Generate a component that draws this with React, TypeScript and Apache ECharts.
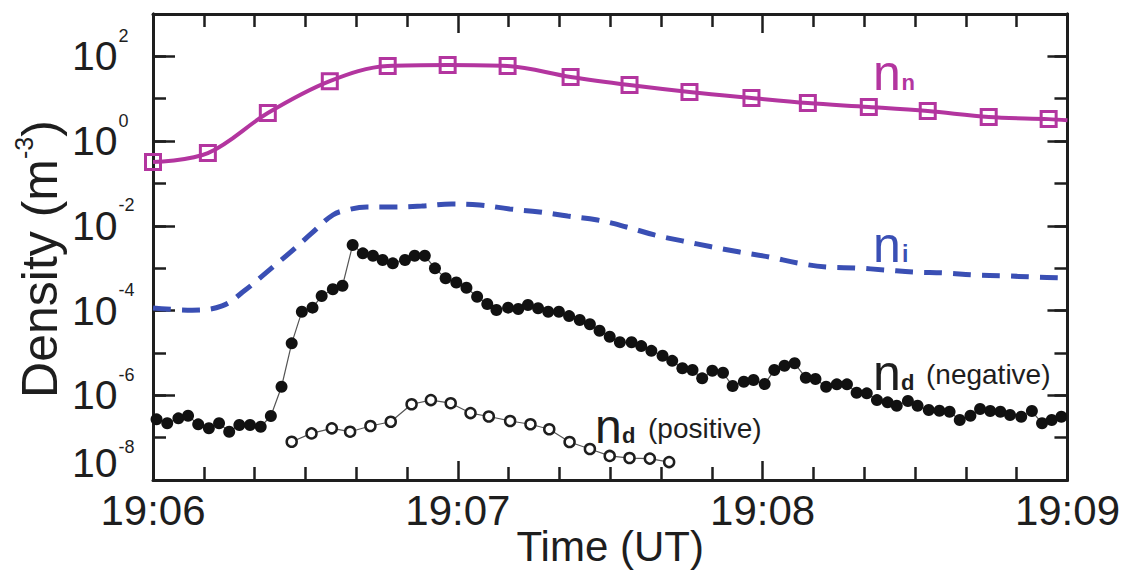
import React, { useEffect, useRef } from 'react';
import * as echarts from 'echarts';

// ---------- data (time in seconds after 19:06 UT, density in m^-3) ----------
const xTickLabels = ['19:06', '19:07', '19:08', '19:09'];

const nnTime = [0, 10.8, 22.6, 34.8, 46.2, 58.0, 69.8, 82.2, 93.8, 105.6, 117.8, 128.9, 140.9, 152.5, 164.5, 176.3, 180];
const nnValue = [0.32, 0.52, 4.6, 26, 59, 62.5, 59, 32.6, 21, 14.4, 10.4, 7.9, 6.4, 5.1, 3.7, 3.3, 3.1];

const niTime = [0, 7.7, 13.6, 18.1, 22.4, 26.9, 31.3, 35.4, 38.2, 42.1, 46.6, 52.9, 58.8, 64.3, 70.2, 76.1, 81.6, 87.5, 93.2, 98.7, 104.2, 109.9, 115.5, 121.4, 126.9, 132.8, 138.5, 144.0, 149.9, 155.8, 161.7, 167.6, 173.1, 178.8, 180];
const niValue = [1.15e-4, 1.02e-4, 1.29e-4, 3.0e-4, 8.1e-4, 2.3e-3, 6.8e-3, 1.8e-2, 2.36e-2, 2.78e-2, 2.78e-2, 2.93e-2, 3.27e-2, 3.1e-2, 2.5e-2, 2.12e-2, 1.7e-2, 1.37e-2, 9.4e-3, 6.1e-3, 4.4e-3, 3.2e-3, 2.4e-3, 1.83e-3, 1.32e-3, 1.06e-3, 1.01e-3, 9.1e-4, 8.1e-4, 7.7e-4, 6.9e-4, 6.6e-4, 6.2e-4, 5.9e-4, 5.75e-4];

const ndNegTime = [0.7, 2.8, 5.0, 6.9, 8.9, 11.0, 13.0, 15.0, 17.0, 19.1, 21.2, 23.2, 25.3, 27.3, 29.3, 31.4, 33.2, 35.4, 37.3,
  39.3, 41.3, 43.3, 45.2, 47.2, 49.6, 51.5, 53.5, 55.5, 57.6, 59.7, 61.7, 63.8, 65.8, 67.6, 69.9, 71.9, 73.8, 75.8,
  77.8, 79.9, 81.9, 84.0, 86.0, 87.9, 89.9, 91.9, 94.2, 96.1, 98.1, 100.3, 102.2, 104.2, 106.2, 108.1, 110.1, 112.2, 114.1, 116.3, 118.2, 120.4, 122.3,
  124.3, 126.3, 128.5, 130.4, 132.5, 134.6, 136.6, 138.5, 140.5, 142.5, 144.6, 146.4, 148.6, 150.5, 152.7, 154.8, 156.8, 158.8, 160.9, 162.8, 164.8, 166.8, 168.7, 170.9, 173.0, 175.0, 176.9, 178.8];
const ndNegValue = [2.7e-7, 2.18e-7, 2.85e-7, 3.29e-7, 2.06e-7, 1.66e-7, 2.18e-7, 1.38e-7, 1.98e-7, 1.98e-7, 1.81e-7, 3.24e-7, 1.59e-6, 1.68e-5, 9.4e-5, 1.17e-4, 2.2e-4, 3.17e-4, 3.85e-4,
  3.52e-3, 2.24e-3, 1.97e-3, 1.56e-3, 1.30e-3, 1.56e-3, 1.97e-3, 1.97e-3, 9.9e-4, 5.8e-4, 4.6e-4, 3.46e-4, 2.12e-4, 1.43e-4, 1.03e-4, 1.17e-4, 1.09e-4, 1.35e-4, 1.13e-4,
  9.4e-5, 9.4e-5, 7.4e-5, 5.97e-5, 4.73e-5, 3.34e-5, 2.41e-5, 1.78e-5, 1.78e-5, 1.45e-5, 1.12e-5, 8.6e-6, 6.5e-6, 4.33e-6, 3.94e-6, 2.51e-6, 3.79e-6, 3.4e-6, 1.65e-6, 2.09e-6, 2.29e-6, 1.84e-6, 3.94e-6,
  4.98e-6, 5.68e-6, 2.59e-6, 2.42e-6, 1.59e-6, 1.81e-6, 1.81e-6, 1.15e-6, 1.11e-6, 7.7e-7, 6.8e-7, 5.66e-7, 7.3e-7, 5.66e-7, 4.49e-7, 4.32e-7, 4.08e-7, 2.6e-7, 3.29e-7, 4.73e-7, 4.25e-7, 4.08e-7, 3.42e-7, 3.11e-7, 4.25e-7, 2.18e-7, 2.6e-7, 3.11e-7];

const ndPosTime = [27.3, 31.2, 35.2, 38.8, 42.8, 46.8, 50.9, 54.7, 58.6, 62.5, 66.1, 70.3, 74.3, 78.0, 82.0, 86.0, 89.9, 93.8, 97.8, 101.6];
const ndPosValue = [8.0e-8, 1.26e-7, 1.66e-7, 1.38e-7, 1.88e-7, 2.37e-7, 6.15e-7, 7.7e-7, 6.5e-7, 3.8e-7, 3.15e-7, 2.47e-7, 2.07e-7, 1.58e-7, 7.9e-8, 5.4e-8, 3.7e-8, 3.3e-8, 3.2e-8, 2.65e-8];

// ---------- styles ----------
const MAGENTA = '#b3359f';
const BLUE = '#3a4fb4';
const INK = '#1e1e1e';
const FONT = '"Liberation Sans", Arial, Helvetica, sans-serif';

const pairs = (t: number[], v: number[]) => t.map((x, i) => [x, v[i]]);

export default function App() {
  const ref = useRef<HTMLDivElement>(null);

  useEffect(() => {
    document.body.style.margin = '0';
    if (!ref.current) return;
    const chart = echarts.init(ref.current, undefined, { renderer: 'svg' });

    const axisLineStyle = { color: INK, width: 3 };
    const tickLine = { color: INK, width: 2.5 };

    const xBase = {
      type: 'value',
      min: 0,
      max: 180,
      interval: 60,
      splitLine: { show: false },
      axisLine: { show: true, onZero: false, lineStyle: axisLineStyle },
      axisTick: { show: true, inside: true, length: 19, lineStyle: tickLine },
      minorTick: { show: true, splitNumber: 6, length: 13, lineStyle: tickLine },
      minorSplitLine: { show: false },
    };

    const yBase = {
      type: 'log',
      logBase: 10,
      min: 1e-8,
      max: 1e3,
      splitLine: { show: false },
      axisLine: { show: true, onZero: false, lineStyle: axisLineStyle },
    };

    const supLabel = (v: number) => {
      const e = Math.round(Math.log10(v));
      if (e % 2 !== 0 || e > 2) return '';
      return e === -8 ? `{b8|10}{s8|${e}}` : `{b|10}{s|${e}}`;
    };

    const option: any = {
      animation: false,
      textStyle: { fontFamily: FONT },
      grid: { left: 153, right: 55, top: 14, bottom: 105, containLabel: false },
      xAxis: [
        {
          ...xBase,
          position: 'bottom',
          name: 'Time (UT)',
          nameLocation: 'middle',
          nameGap: 45,
          nameMoveOverlap: false,
          nameTextStyle: { fontSize: 42, color: INK, fontFamily: FONT },
          axisLabel: {
            show: true,
            margin: 9,
            fontSize: 42,
            color: INK,
            fontFamily: FONT,
            formatter: (v: number) => xTickLabels[Math.round(v / 60)] ?? '',
          },
        },
        { ...xBase, position: 'top', axisLabel: { show: false } },
      ],
      yAxis: [
        {
          ...yBase,
          position: 'left',
          interval: 1,
          axisTick: { show: true, inside: true, length: 13, lineStyle: tickLine },
          name: '{a|Density (m}{s|-3}{a|)}',
          nameLocation: 'middle',
          nameRotate: 90,
          nameGap: 88,
          nameMoveOverlap: false,
          nameTextStyle: {
            color: INK,
            padding: [0, 24, 0, 0],
            rich: {
              a: { fontSize: 50, color: INK, fontFamily: FONT, verticalAlign: 'bottom' },
              s: { fontSize: 25, color: INK, fontFamily: FONT, verticalAlign: 'bottom', padding: [0, 0, 29, 0] },
            },
          },
          axisLabel: {
            show: true,
            margin: 81,
            align: 'left',
            color: INK,
            formatter: supLabel,
            rich: {
              b: { fontSize: 41, lineHeight: 41, color: INK, fontFamily: FONT, verticalAlign: 'bottom' },
              s: { fontSize: 18, lineHeight: 18, color: INK, fontFamily: FONT, verticalAlign: 'bottom', padding: [0, 0, 32, 1] },
              b8: { fontSize: 41, lineHeight: 41, color: INK, fontFamily: FONT, verticalAlign: 'bottom', padding: [0, 0, 17, 0] },
              s8: { fontSize: 18, lineHeight: 18, color: INK, fontFamily: FONT, verticalAlign: 'bottom', padding: [0, 0, 45, 1] },
            },
          },
        },
        {
          ...yBase,
          position: 'left',
          interval: 2,
          axisTick: { show: true, inside: true, length: 22, lineStyle: tickLine },
          axisLabel: { show: false },
        },
        {
          ...yBase,
          position: 'right',
          interval: 1,
          axisTick: { show: true, inside: true, length: 13, lineStyle: tickLine },
          axisLabel: { show: false },
        },
        {
          ...yBase,
          position: 'right',
          interval: 2,
          axisTick: { show: true, inside: true, length: 20, lineStyle: tickLine },
          axisLabel: { show: false },
        },
      ],
      series: [
        {
          name: 'n_i',
          type: 'line',
          xAxisIndex: 0,
          yAxisIndex: 0,
          smooth: 0.4,
          showSymbol: false,
          symbol: 'none',
          data: pairs(niTime, niValue),
          lineStyle: { color: BLUE, width: 5, type: [18, 11] },
          z: 2,
        },
        {
          name: 'n_n',
          type: 'line',
          xAxisIndex: 0,
          yAxisIndex: 0,
          smooth: 0.35,
          symbol: 'rect',
          symbolSize: 15,
          data: pairs(nnTime, nnValue).map((p, i) =>
            i === nnTime.length - 1 ? { value: p, symbol: 'none' } : { value: p }
          ),
          lineStyle: { color: MAGENTA, width: 4 },
          itemStyle: { color: 'rgba(255,255,255,0)', borderColor: MAGENTA, borderWidth: 3 },
          z: 3,
        },
        {
          name: 'n_d positive',
          type: 'line',
          xAxisIndex: 0,
          yAxisIndex: 0,
          symbol: 'circle',
          symbolSize: 10,
          data: pairs(ndPosTime, ndPosValue),
          lineStyle: { color: '#555', width: 1.2 },
          itemStyle: { color: '#fff', borderColor: INK, borderWidth: 2.5 },
          z: 4,
        },
        {
          name: 'n_d negative',
          type: 'line',
          xAxisIndex: 0,
          yAxisIndex: 0,
          symbol: 'circle',
          symbolSize: 12,
          data: pairs(ndNegTime, ndNegValue),
          lineStyle: { color: '#555', width: 1.2 },
          itemStyle: { color: '#111', borderWidth: 0 },
          z: 5,
        },
      ],
      graphic: [
        { type: 'text', x: 873, y: 47.5, style: { text: 'n', fontSize: 50, fontFamily: FONT, fill: MAGENTA } },
        { type: 'text', x: 901.5, y: 71.3, style: { text: 'n', fontSize: 22, fontWeight: 'bold', fontFamily: FONT, fill: MAGENTA } },
        { type: 'text', x: 873, y: 219.5, style: { text: 'n', fontSize: 50, fontFamily: FONT, fill: BLUE } },
        { type: 'text', x: 902, y: 242.5, style: { text: 'i', fontSize: 23, fontWeight: 'bold', fontFamily: FONT, fill: BLUE } },
        { type: 'text', x: 873, y: 347.5, style: { text: 'n', fontSize: 50, fontFamily: FONT, fill: INK } },
        { type: 'text', x: 901, y: 371.3, style: { text: 'd', fontSize: 22, fontWeight: 'bold', fontFamily: FONT, fill: INK } },
        { type: 'text', x: 926, y: 360.2, style: { text: '(negative)', fontSize: 28, fontFamily: FONT, fill: INK } },
        { type: 'text', x: 595, y: 402.2, style: { text: 'n', fontSize: 48, fontFamily: FONT, fill: INK } },
        { type: 'text', x: 622, y: 424.3, style: { text: 'd', fontSize: 22, fontWeight: 'bold', fontFamily: FONT, fill: INK } },
        { type: 'text', x: 648, y: 414.7, style: { text: '(positive)', fontSize: 28, fontFamily: FONT, fill: INK } },
      ],
    };

    chart.setOption(option);
    return () => chart.dispose();
  }, []);

  return <div ref={ref} style={{ width: 1123, height: 585 }} />;
}
